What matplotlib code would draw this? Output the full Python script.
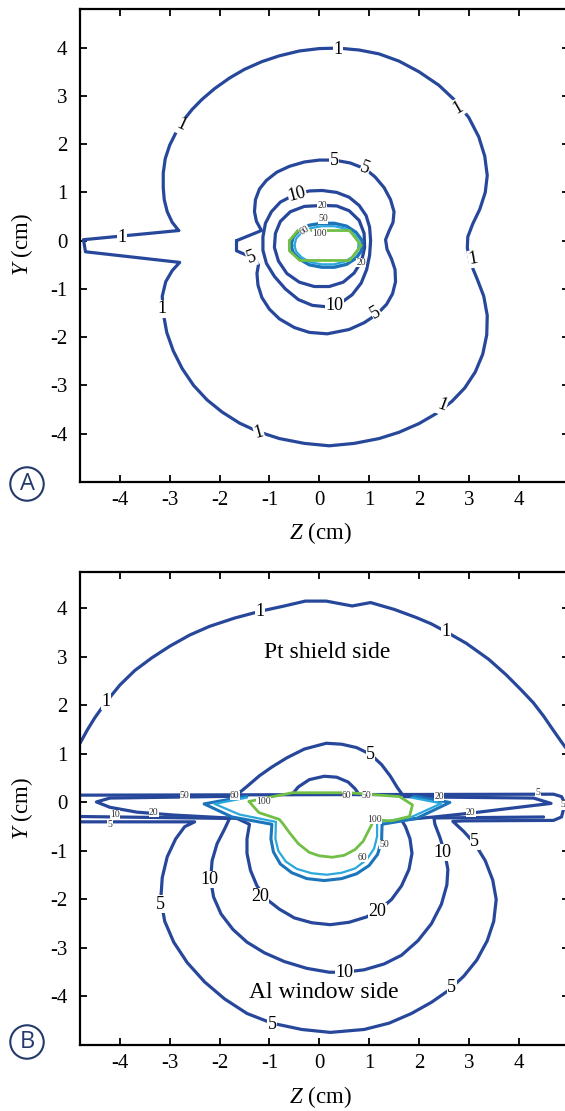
import numpy as np
import matplotlib.pyplot as plt

plt.rcParams['font.family'] = 'Liberation Serif'
plt.rcParams['mathtext.fontset'] = 'custom'
plt.rcParams['mathtext.rm'] = 'Liberation Serif'
plt.rcParams['mathtext.it'] = 'Liberation Serif:italic'

# ---- isodose lines, (Z, Y) in cm ----
# panel A
a_1 = np.array([(-2.82, 0.21), (-2.95, 0.38), (-3.05, 0.6), (-3.11, 0.85), (-3.13, 1.1), (-3.13, 1.4),
                (-3.09, 1.7), (-3.0, 1.98), (-2.87, 2.25), (-2.72, 2.5), (-2.55, 2.72), (-2.35, 2.93),
                (-2.1, 3.15), (-1.8, 3.37), (-1.5, 3.55), (-1.15, 3.71), (-0.8, 3.83), (-0.4, 3.93),
                (0.0, 3.98), (0.38, 3.99), (0.8, 3.95), (1.2, 3.87), (1.6, 3.72), (2.0, 3.5),
                (2.4, 3.22), (2.75, 2.88), (3.0, 2.55), (3.2, 2.15), (3.32, 1.75), (3.37, 1.35),
                (3.33, 1.0), (3.22, 0.65), (3.08, 0.35), (2.98, 0.08), (2.97, -0.15), (3.03, -0.45),
                (3.17, -0.8), (3.3, -1.15), (3.37, -1.55), (3.36, -1.95), (3.28, -2.35), (3.13, -2.72),
                (2.92, -3.05), (2.66, -3.33), (2.35, -3.58), (2.0, -3.79), (1.6, -3.97), (1.2, -4.1),
                (0.7, -4.2), (0.2, -4.25), (-0.3, -4.2), (-0.8, -4.1), (-1.22, -3.96), (-1.6, -3.78),
                (-1.95, -3.55), (-2.25, -3.3), (-2.52, -3.0), (-2.75, -2.65), (-2.93, -2.28),
                (-3.06, -1.9), (-3.13, -1.5), (-3.15, -1.15), (-3.08, -0.85), (-2.95, -0.62),
                (-2.8, -0.45), (-4.69, -0.23), (-4.73, 0.02), (-2.82, 0.21)])
a_5 = np.array([(-1.66, 0.0), (-1.16, 0.21), (-1.26, 0.4), (-1.3, 0.6), (-1.28, 0.85), (-1.2, 1.07),
                (-1.06, 1.25), (-0.85, 1.42), (-0.6, 1.54), (-0.3, 1.63), (0.0, 1.67), (0.3, 1.67),
                (0.62, 1.61), (0.92, 1.49), (1.12, 1.32), (1.3, 1.1), (1.43, 0.85), (1.5, 0.6),
                (1.48, 0.38), (1.4, 0.2), (1.33, 0.02), (1.36, -0.18), (1.45, -0.38), (1.52, -0.6),
                (1.53, -0.85), (1.47, -1.1), (1.35, -1.32), (1.15, -1.53), (0.9, -1.7), (0.6, -1.84),
                (0.16, -1.93), (-0.2, -1.9), (-0.5, -1.8), (-0.8, -1.62), (-1.0, -1.42), (-1.15, -1.18),
                (-1.23, -0.92), (-1.25, -0.68), (-1.22, -0.5), (-1.32, -0.36), (-1.66, -0.21), (-1.66, 0.0)])
a_10 = np.array([(0.06, 1.04), (0.35, 1.0), (0.6, 0.9), (0.8, 0.73), (0.94, 0.52), (1.01, 0.28),
                 (1.03, 0.0), (1.01, -0.3), (0.95, -0.6), (0.84, -0.88), (0.66, -1.12), (0.42, -1.3),
                 (0.15, -1.37), (-0.14, -1.34), (-0.42, -1.22), (-0.68, -1.0), (-0.9, -0.74),
                 (-1.06, -0.47), (-1.13, -0.2), (-1.13, 0.08), (-1.08, 0.36), (-0.96, 0.6),
                 (-0.78, 0.8), (-0.5, 0.95), (-0.2, 1.03), (0.06, 1.04)])
a_20 = np.array([(0.06, 0.73), (0.35, 0.72), (0.6, 0.62), (0.8, 0.42), (0.9, 0.15), (0.91, -0.14),
                 (0.85, -0.42), (0.7, -0.67), (0.48, -0.86), (0.2, -0.95), (-0.1, -0.95), (-0.4, -0.86),
                 (-0.65, -0.68), (-0.82, -0.42), (-0.9, -0.14), (-0.88, 0.15), (-0.78, 0.4),
                 (-0.58, 0.6), (-0.3, 0.71), (0.06, 0.73)])
a_50 = np.array([(-0.57, -0.1), (-0.52, 0.08), (-0.4, 0.22), (-0.2, 0.32), (0.05, 0.36), (0.3, 0.36),
                 (0.55, 0.3), (0.74, 0.17), (0.86, 0.0), (0.85, -0.2), (0.74, -0.36), (0.55, -0.49),
                 (0.3, -0.55), (0.05, -0.55), (-0.2, -0.5), (-0.4, -0.38), (-0.52, -0.25), (-0.57, -0.1)])
a_60 = np.array([(-0.5, -0.1), (-0.46, 0.05), (-0.35, 0.17), (-0.17, 0.26), (0.05, 0.3), (0.3, 0.3),
                 (0.52, 0.25), (0.69, 0.14), (0.79, 0.0), (0.78, -0.18), (0.69, -0.32), (0.52, -0.43),
                 (0.3, -0.49), (0.05, -0.49), (-0.17, -0.45), (-0.35, -0.35), (-0.46, -0.23), (-0.5, -0.1)])
a_100 = np.array([(-0.6, 0.0), (-0.43, 0.21), (0.61, 0.21), (0.84, -0.1), (0.61, -0.41),
                  (-0.39, -0.41), (-0.6, -0.21), (-0.6, 0.0)])

# panel B
b_1 = np.array([(-4.8, 1.22), (-4.65, 1.5), (-4.5, 1.75), (-4.27, 2.08), (-4.0, 2.42), (-3.7, 2.72),
                (-3.36, 2.98), (-3.0, 3.22), (-2.6, 3.45), (-2.2, 3.63), (-1.7, 3.8), (-1.19, 3.94),
                (-0.7, 4.05), (-0.28, 4.15), (0.14, 4.15), (0.66, 4.05), (1.03, 4.12), (1.5, 3.98),
                (1.95, 3.81), (2.25, 3.68), (2.54, 3.52), (2.95, 3.28), (3.4, 2.95), (3.75, 2.63),
                (4.05, 2.32), (4.29, 2.06), (4.5, 1.78), (4.7, 1.48), (4.85, 1.26), (5.0, 1.05)])
b_5_top = np.array([(-1.65, 0.16), (-1.45, 0.33), (-1.2, 0.55), (-0.95, 0.73), (-0.65, 0.92),
                    (-0.3, 1.1), (0.14, 1.22), (0.45, 1.2), (0.75, 1.13), (1.03, 0.99), (1.25, 0.78),
                    (1.42, 0.55), (1.57, 0.3), (1.67, 0.16)])
b_in_top = np.array([(-0.55, 0.16), (-0.42, 0.32), (-0.2, 0.47), (0.1, 0.54), (0.35, 0.52),
                     (0.58, 0.42), (0.72, 0.28), (0.8, 0.16)])
b_5 = np.array([(-4.8, 0.15), (4.7, 0.17), (4.86, 0.12), (4.93, -0.02), (4.86, -0.3), (4.7, -0.37),
                (2.9, -0.38), (2.68, -0.39), (2.9, -0.6), (3.12, -0.85), (3.33, -1.2), (3.48, -1.6),
                (3.55, -2.0), (3.5, -2.45), (3.37, -2.85), (3.16, -3.25), (2.9, -3.58), (2.6, -3.87),
                (2.25, -4.12), (1.85, -4.35), (1.4, -4.55), (0.9, -4.68), (0.22, -4.74), (-0.35, -4.68),
                (-0.95, -4.55), (-1.45, -4.35), (-1.9, -4.05), (-2.3, -3.7), (-2.65, -3.3),
                (-2.92, -2.88), (-3.1, -2.45), (-3.18, -2.0), (-3.15, -1.55), (-3.05, -1.12),
                (-2.88, -0.75), (-2.7, -0.5), (-2.5, -0.4), (-4.8, -0.4)])
b_10 = np.array([(-4.8, -0.29), (-1.8, -0.33), (-1.9, -0.55), (-2.05, -0.85), (-2.15, -1.2),
                 (-2.18, -1.59), (-2.12, -1.95), (-1.97, -2.3), (-1.73, -2.62), (-1.45, -2.88),
                 (-1.1, -3.1), (-0.7, -3.28), (-0.25, -3.42), (0.2, -3.5), (0.5, -3.5), (0.9, -3.45),
                 (1.3, -3.33), (1.65, -3.15), (1.98, -2.85), (2.25, -2.5), (2.45, -2.1), (2.56, -1.7),
                 (2.58, -1.38), (2.52, -1.05), (2.42, -0.72), (2.32, -0.45), (2.3, -0.32), (4.5, -0.3)])
b_20 = np.array([(-1.5, 0.13), (-4.2, 0.09), (-4.47, 0.01), (-4.2, -0.1), (-3.66, -0.2), (-2.92, -0.26),
                 (-1.65, -0.33), (-1.4, -0.45), (-1.45, -0.75), (-1.45, -1.05), (-1.38, -1.4),
                 (-1.25, -1.72), (-1.05, -2.0), (-0.8, -2.2), (-0.5, -2.38), (-0.15, -2.48), (0.22, -2.52),
                 (0.6, -2.47), (0.95, -2.36), (1.22, -2.2), (1.45, -2.0), (1.65, -1.72), (1.8, -1.38),
                 (1.86, -1.05), (1.82, -0.75), (1.73, -0.5), (1.65, -0.36), (2.3, -0.3), (3.04, -0.22),
                 (4.0, -0.1), (4.65, -0.02), (4.3, 0.09), (2.41, 0.11), (1.7, 0.12)])
b_50 = np.array([(-1.45, 0.13), (-2.31, -0.03), (-1.75, -0.3), (-0.95, -0.45), (-0.97, -0.75),
                 (-0.92, -1.02), (-0.78, -1.27), (-0.55, -1.45), (-0.25, -1.57), (0.1, -1.61),
                 (0.45, -1.57), (0.75, -1.47), (1.0, -1.3), (1.17, -1.07), (1.25, -0.8), (1.26, -0.45),
                 (1.95, -0.33), (2.62, 0.0), (1.9, 0.13)])
b_60 = np.array([(-1.45, 0.1), (-2.1, -0.03), (-1.6, -0.25), (-0.87, -0.4), (-0.88, -0.75),
                 (-0.82, -1.0), (-0.67, -1.22), (-0.45, -1.37), (-0.15, -1.46), (0.15, -1.49),
                 (0.45, -1.45), (0.72, -1.36), (0.95, -1.18), (1.1, -0.95), (1.16, -0.7), (1.16, -0.42),
                 (1.85, -0.3), (2.45, -0.02), (1.85, 0.1)])
b_100 = np.array([(-1.41, 0.02), (-0.54, 0.2), (0.6, 0.2), (1.61, 0.12), (1.87, -0.05), (1.81, -0.29),
                  (1.45, -0.38), (1.1, -0.36), (1.0, -0.56), (0.88, -0.8), (0.72, -0.97), (0.5, -1.09),
                  (0.26, -1.13), (0.0, -1.1), (-0.2, -1.03), (-0.42, -0.85), (-0.6, -0.62),
                  (-0.72, -0.45), (-0.8, -0.35), (-1.21, -0.21), (-1.41, 0.02)])

# contour labels: (text, Z, Y, rotation, small?)
a_labels = [('1', 0.38, 3.97, 0, 0), ('1', 2.79, 2.76, 30, 0), ('1', -2.77, 2.39, -25, 0),
            ('1', -3.96, 0.07, 0, 0), ('1', 3.08, -0.38, 10, 0), ('1', -3.15, -1.41, 0, 0),
            ('1', 2.46, -3.42, -20, 0), ('1', -1.21, -3.98, 15, 0),
            ('5', 0.3, 1.66, 0, 0), ('5', 0.92, 1.49, -20, 0), ('5', -1.36, -0.35, 20, 0),
            ('5', 1.13, -1.49, 30, 0), ('10', -0.44, 0.95, 15, 0), ('10', 0.3, -1.35, 0, 0),
            ('20', 0.06, 0.72, 0, 1), ('20', 0.84, -0.45, 0, 1), ('50', 0.08, 0.45, 0, 1),
            ('100', 0.0, 0.15, 0, 1), ('60', -0.3, 0.22, 30, 1)]
b_labels = [('1', -4.27, 2.08, 0, 0), ('1', -1.19, 3.94, 0, 0), ('1', 2.54, 3.52, 0, 0),
            ('5', 1.03, 0.99, 0, 0), ('5', -3.18, -2.1, 0, 0), ('5', -0.95, -4.58, 0, 0),
            ('5', 2.66, -3.81, 0, 0), ('5', 3.12, -0.8, 0, 0),
            ('10', -2.21, -1.59, 0, 0), ('10', 0.5, -3.5, 0, 0), ('10', 2.47, -1.03, 0, 0),
            ('20', -1.19, -1.94, 0, 0), ('20', 1.17, -2.25, 0, 0),
            ('10', -4.1, -0.25, 0, 1), ('5', -4.2, -0.45, 0, 1), ('20', -3.32, -0.21, 0, 1),
            ('5', 4.39, 0.2, 0, 1), ('5', 4.88, -0.05, 0, 1), ('20', 2.41, 0.12, 0, 1),
            ('20', 3.04, -0.21, 0, 1), ('50', 1.31, -0.87, 0, 1), ('60', 0.87, -1.13, 0, 1),
            ('100', -1.11, 0.02, 0, 1), ('100', 1.1, -0.35, 0, 1), ('50', -2.7, 0.14, 0, 1),
            ('60', -1.7, 0.14, 0, 1), ('60', 0.55, 0.14, 0, 1), ('50', 0.95, 0.14, 0, 1)]

ticks = [-4, -3, -2, -1, 0, 1, 2, 3, 4]
tick_labels = ['-4', '-3', '-2', '-1', '0', '1', '2', '3', '4']

BLUE = '#27479b'
DARKCYAN = '#1c74ba'
CYAN = '#2ba8dc'
GREEN = '#72bf46'

a_lines = [(a_1, BLUE, 2.3), (a_5, BLUE, 2.3), (a_10, BLUE, 2.3), (a_20, BLUE, 2.3),
           (a_50, DARKCYAN, 2.4), (a_60, CYAN, 1.6), (a_100, GREEN, 2.0)]
b_lines = [(b_1, BLUE, 2.3), (b_5_top, BLUE, 2.3), (b_in_top, BLUE, 2.3), (b_5, BLUE, 2.3),
           (b_10, BLUE, 2.3), (b_20, BLUE, 2.3), (b_50, DARKCYAN, 2.2), (b_60, CYAN, 1.6),
           (b_100, GREEN, 2.0)]

fig = plt.figure(figsize=(5.65, 11.11), dpi=100)
W, H = 565, 1111


def make_axes(bottom_px, top_px, ylim):
    ax = fig.add_axes([80 / W, 1 - bottom_px / H, 488.5 / W, (bottom_px - top_px) / H])
    ax.set_xlim(-4.8, 5.0)
    ax.set_ylim(*ylim)
    ax.set_xticks(ticks)
    ax.set_xticklabels(tick_labels)
    ax.set_yticks(ticks)
    ax.set_yticklabels(tick_labels)
    ax.tick_params(direction='in', top=True, right=True, length=5, width=1.3, labelsize=15)
    ax.tick_params(axis='x', pad=6.5)
    ax.tick_params(axis='y', pad=9)
    for s in ax.spines.values():
        s.set_linewidth(1.6)
    return ax


def draw(ax, lines, labels):
    for pts, col, lw in lines:
        ax.plot(pts[:, 0], pts[:, 1], color=col, lw=lw, solid_joinstyle='round',
                solid_capstyle='round', zorder=2)
    for txt, z, y, rot, small in labels:
        if small:
            ax.text(z, y, txt, fontsize=7, color='#333333', ha='center', va='center',
                    rotation=rot, zorder=4,
                    bbox=dict(boxstyle='square,pad=0.02', fc='white', ec='none'))
        else:
            ax.text(z, y, txt, fontsize=13, color='black', ha='center', va='center',
                    rotation=rot, zorder=4,
                    bbox=dict(boxstyle='square,pad=0.02', fc='white', ec='none'))


axA = make_axes(482, 9, (-5.0, 4.8))
draw(axA, a_lines, a_labels)

axB = make_axes(1045, 572, (-5.0, 4.75))
draw(axB, b_lines, b_labels)
axB.text(0.15, 3.1, 'Pt shield side', fontsize=17, ha='center', va='center')
axB.text(0.09, -3.92, 'Al window side', fontsize=17, ha='center', va='center')

# axis titles
for cy_lab, cy_z in [(245, 533), (809, 1097)]:
    fig.text(22 / W, 1 - cy_lab / H, r'$Y$ (cm)', fontsize=16.5, rotation=90, ha='center', va='center')
    fig.text(320 / W, 1 - cy_z / H, r'$Z$ (cm)', fontsize=16.5, ha='center', va='center')

# panel letters
for letter, cy in [('A', 484), ('B', 1042)]:
    fig.text(27 / W, 1 - cy / H, letter, fontsize=17, family='Open Sans', color='#233a6a',
             ha='center', va='center',
             bbox=dict(boxstyle='circle,pad=0.2', fc='white', ec='#233a6a', lw=1.5))

fig.savefig('out.png', dpi=100)
